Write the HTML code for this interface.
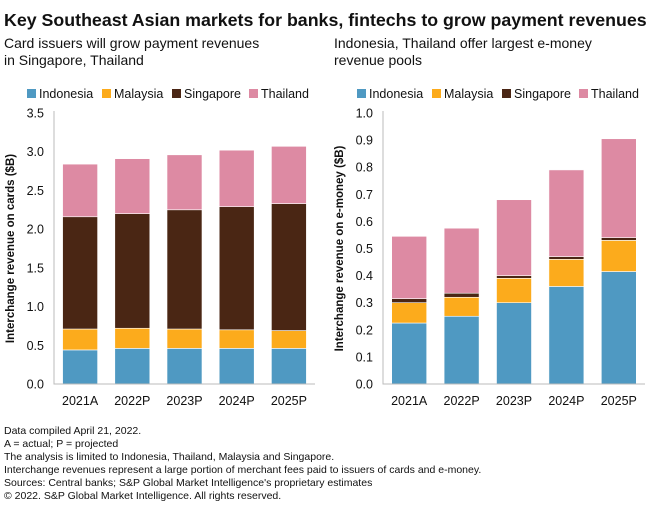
<!DOCTYPE html>
<html><head><meta charset="utf-8"><style>
body{margin:0;background:#fff;font-family:"Liberation Sans",sans-serif;}
svg text{font-family:"Liberation Sans",sans-serif;}
</style></head><body>
<svg id="svg" width="660" height="513" xmlns="http://www.w3.org/2000/svg">
<text x="4" y="26" font-size="17.8" font-weight="bold" fill="#111">Key Southeast Asian markets for banks, fintechs to grow payment revenues</text>
<text x="4" y="48" font-size="14" fill="#111">Card issuers will grow payment revenues</text>
<text x="4" y="65" font-size="14" fill="#111">in Singapore, Thailand</text>
<text x="334" y="48" font-size="14" fill="#111">Indonesia, Thailand offer largest e-money</text>
<text x="334" y="65" font-size="14" fill="#111">revenue pools</text>
<g id="left"></g>
<g id="right"></g>
<g font-size="10.5" fill="#111">
<text x="4" y="434">Data compiled April 21, 2022.</text>
<text x="4" y="447">A = actual; P = projected</text>
<text x="4" y="460">The analysis is limited to Indonesia, Thailand, Malaysia and Singapore.</text>
<text x="4" y="473">Interchange revenues represent a large portion of merchant fees paid to issuers of cards and e-money.</text>
<text x="4" y="486">Sources: Central banks; S&amp;P Global Market Intelligence's proprietary estimates</text>
<text x="4" y="499">© 2022. S&amp;P Global Market Intelligence. All rights reserved.</text>
</g>
</svg>
<script>
const categories=["2021A","2022P","2023P","2024P","2025P"];
const seriesNames=["Indonesia","Malaysia","Singapore","Thailand"];
const colors=["#4f99c2","#fcab1c","#4a2614","#dd8aa3"];
const cardsIndonesia=[0.44,0.46,0.46,0.46,0.46];
const cardsMalaysia=[0.27,0.26,0.25,0.24,0.23];
const cardsSingapore=[1.45,1.48,1.54,1.59,1.64];
const cardsThailand=[0.68,0.71,0.71,0.73,0.74];
const cardsTicks=["0.0","0.5","1.0","1.5","2.0","2.5","3.0","3.5"];
const emIndonesia=[0.225,0.25,0.30,0.36,0.415];
const emMalaysia=[0.075,0.07,0.09,0.10,0.115];
const emSingapore=[0.015,0.015,0.01,0.01,0.01];
const emThailand=[0.23,0.24,0.28,0.32,0.365];
const emTicks=["0.0","0.1","0.2","0.3","0.4","0.5","0.6","0.7","0.8","0.9","1.0"];
const NS="http://www.w3.org/2000/svg";
function mk(p,t,a){const e=document.createElementNS(NS,t);for(const k in a)e.setAttribute(k,a[k]);p.appendChild(e);return e;}
function draw(g,ax0,ax1,series,ticks,ymax,ylabel,legX,prefix){
  const y0=384,y1=113;
  const y=v=>y0-(v/ymax)*(y0-y1);
  const band=(ax1-ax0)/categories.length;
  const x=i=>ax0+band*(i+0.5);
  const bw=35;
  ticks.forEach(t=>{const tx=mk(g,'text',{x:ax0-10,y:y(parseFloat(t))+4.5,'font-size':12.5,'text-anchor':'end',fill:'#111'});tx.textContent=t;
    
    });
  const yl=mk(g,'text',{transform:`translate(${ax0-40},${(y0+y1)/2}) rotate(-90)`,'font-size':11.5,'font-weight':'bold','text-anchor':'middle',fill:'#111'});yl.textContent=ylabel;
  
  
  categories.forEach((c,i)=>{let acc=0;
    series.forEach((s,j)=>{const v=s[i];const r=mk(g,'rect',{x:x(i)-bw/2,y:y(acc+v),width:bw,height:y(acc)-y(acc+v),fill:colors[j],stroke:'#fff','stroke-width':0.6});
      
      
      acc+=v;});
    const tl=mk(g,'text',{x:x(i),y:y0+21,'font-size':12.5,'text-anchor':'middle',fill:'#111'});tl.textContent=c;
    
    });
  const axl=mk(g,'path',{d:`M${ax0} ${y1-2}V${y0}H${ax1}`,stroke:'#bbb',fill:'none','stroke-width':1});
  
  
  const lx=[0,75,145,222];
  seriesNames.forEach((n,j)=>{const r=mk(g,'rect',{x:legX+lx[j],y:89,width:9,height:9,fill:colors[j]});
    
    
    const t=mk(g,'text',{x:legX+lx[j]+12,y:98,'font-size':12.5,fill:'#111'});t.textContent=n;
    
    });
}
draw(document.getElementById('left'),54,315,[cardsIndonesia,cardsMalaysia,cardsSingapore,cardsThailand],cardsTicks,3.5,'Interchange revenue on cards ($B)',27,'cards');
draw(document.getElementById('right'),383,645,[emIndonesia,emMalaysia,emSingapore,emThailand],emTicks,1.0,'Interchange revenue on e-money ($B)',357,'emoney');
</script>
</body></html>
